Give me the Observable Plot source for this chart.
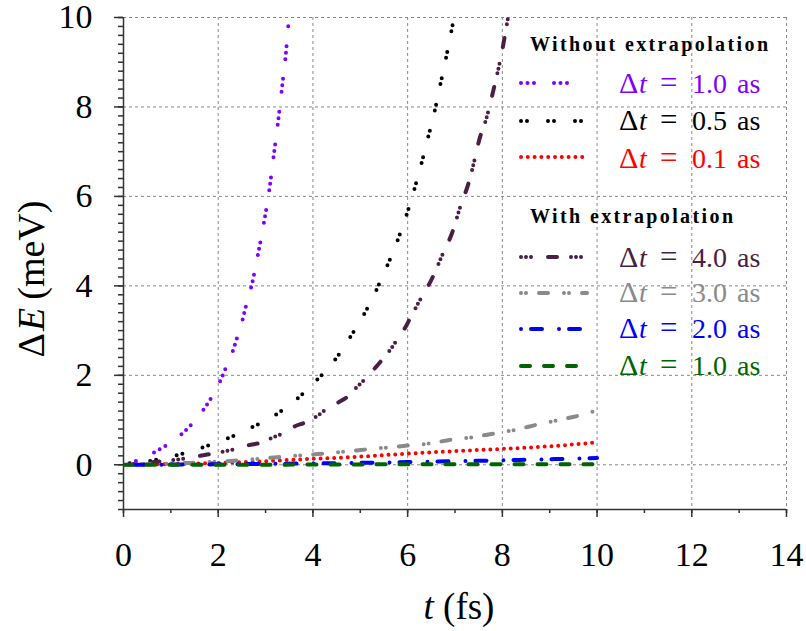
<!DOCTYPE html>
<html><head><meta charset="utf-8">
<script src="https://cdn.jsdelivr.net/npm/d3@7"></script>
<script src="https://cdn.jsdelivr.net/npm/@observablehq/plot@0.6"></script>
<style>body{margin:0;background:#fff}</style>
</head><body><div id="chart"></div>
<script>
// ---- data (t in fs, ΔE in meV) ----
const tWo10 = [0,0.27,0.65,0.9,1.23,1.44,1.70,1.86,2.05,2.17,2.32,2.41,2.53,2.60,2.71,2.85,2.98,3.09,3.18,3.27,3.35,3.43,3.49];
const eWo10 = [0,0.09,0.28,0.43,0.69,0.91,1.25,1.51,1.89,2.19,2.58,2.88,3.31,3.61,4.03,4.76,5.50,6.23,6.98,7.72,8.46,9.21,9.95];
const tWo05 = [0,0.58,1.12,1.65,2.18,2.70,3.20,3.65,4.06,4.44,4.76,5.05,5.31,5.54,5.76,5.95,6.12,6.27,6.41,6.55,6.67,6.79,6.90,6.98];
const eWo05 = [0,0.09,0.21,0.38,0.58,0.83,1.11,1.46,1.87,2.31,2.81,3.31,3.84,4.38,4.94,5.50,6.08,6.65,7.23,7.81,8.40,8.99,9.57,10.0];
const tWo01 = [0,1.2,2.34,3.74,5.15,6.0,6.91,7.90,8.95,10];
const eWo01 = [0,0.02,0.05,0.12,0.19,0.25,0.30,0.35,0.41,0.50];
const tW40 = [0,0.65,1.35,1.77,2.09,2.27,2.65,2.89,3.13,3.38,3.62,3.85,4.06,4.31,4.53,4.73,4.91,5.05,5.31,5.47,5.63,5.80,5.94,6.05,6.31,6.49,6.74,6.93,7.14,7.27,7.37,7.53,7.65,7.81,7.97,8.12];
const eW40 = [0,0.06,0.15,0.23,0.29,0.33,0.44,0.49,0.60,0.71,0.86,0.95,1.07,1.26,1.39,1.52,1.72,1.86,2.16,2.36,2.57,2.83,3.05,3.27,3.78,4.11,4.71,5.16,5.86,6.24,6.63,7.33,7.70,8.37,9.12,10.0];
const tW30 = [0,1.35,2.34,3.25,4.10,5.01,6.0,6.49,6.91,7.40,7.83,8.32,8.74,9.24,9.73,10.0];
const eW30 = [0,0.04,0.09,0.17,0.24,0.33,0.43,0.48,0.56,0.62,0.70,0.79,0.90,1.01,1.13,1.22];
const tW20 = [0,2,4,6,8,10];
const eW20 = [0,0.01,0.03,0.06,0.10,0.15];
const tW10 = [0,2,4,6,8,10];
const eW10 = [0,0.0,0.005,0.01,0.01,0.01];

const xTicks = [0,2,4,6,8,10,12,14];
const yTicks = [0,2,4,6,8,10];
const legendValues = ["1.0","0.5","0.1","4.0","3.0","2.0","1.0"];

const series = [
  {t:tWo10, e:eWo10, color:"#7f00ff", dash:"0 6.5 0 6.5 0 20"},
  {t:tWo05, e:eWo05, color:"#000000", dash:"0 6 0 21"},
  {t:tWo01, e:eWo01, color:"#ff0000", dash:"0 6.8"},
  {t:tW40,  e:eW40,  color:"#4a1f45", dash:"0 5 0 5 0 17 9 14"},
  {t:tW30,  e:eW30,  color:"#8a8a8a", dash:"0 5 0 13 9 16"},
  {t:tW20,  e:eW20,  color:"#0000ff", dash:"0 10 11 17"},
  {t:tW10,  e:eW10,  color:"#006400", dash:"9 14"}
];

const font = "'Liberation Serif', 'Times New Roman', serif";
const axisColor = "#333";
const gridStyle = {stroke:"#888", strokeOpacity:1, strokeWidth:1, strokeDasharray:"3,3"};

const lineMarks = series.map(s => Plot.line(s.t.map((t,i)=>({t, e:s.e[i]})), {
  x:"t", y:"e", stroke:s.color, strokeWidth:4, strokeDasharray:s.dash,
  strokeLinecap:"round", curve:"monotone-x", clip:true
}));

const chart = Plot.plot({
  width:806, height:631,
  marginLeft:123, marginRight:20, marginTop:17, marginBottom:122,
  style:{fontFamily:font, background:"#fff", color:"#000"},
  x:{domain:[0,14]},
  y:{domain:[-1,10]},
  marks:[
    Plot.gridX(xTicks.slice(1), gridStyle),
    Plot.gridY(yTicks, gridStyle),
    Plot.axisX(d3.range(0,15,1), {tickSize:4, fill:"none", stroke:axisColor, strokeWidth:1.5, label:null}),
    Plot.axisX(xTicks, {tickSize:8, tickPadding:24, fontSize:34, stroke:axisColor, strokeWidth:1.5, fill:"#000", label:null, tickFormat:d=>String(d)}),
    Plot.axisY(d3.range(-1,10.001,0.2).map(v=>+v.toFixed(1)), {tickSize:5, fill:"none", stroke:axisColor, strokeWidth:1.5, label:null}),
    Plot.axisY(yTicks, {tickSize:9, tickPadding:22, fontSize:34, stroke:axisColor, strokeWidth:1.5, fill:"#000", label:null, tickFormat:d=>String(d)}),
    Plot.ruleY([-1], {stroke:axisColor, strokeWidth:1.5}),
    Plot.ruleX([0], {stroke:axisColor, strokeWidth:1.5}),
    ...lineMarks
  ]
});
document.getElementById("chart").appendChild(chart);

// ---- titles and legend ----
const svg = d3.select(chart);
const g = svg.append("g").attr("font-family", font).attr("fill", "#000").attr("text-anchor","start");

// x title
const xt = g.append("text").attr("x", 459).attr("y", 619).attr("text-anchor","middle").attr("font-size", 37);
xt.append("tspan").attr("font-style","italic").text("t");
xt.append("tspan").text(" (fs)");
// y title
const yt = g.append("text").attr("transform","translate(44,279) rotate(-90)").attr("text-anchor","middle").attr("font-size", 38);
yt.append("tspan").text("Δ");
yt.append("tspan").attr("font-style","italic").attr("dx",2).text("E");
yt.append("tspan").attr("dx",8).text("(meV)");

// legend headers
g.append("text").attr("x",530).attr("y",51).attr("font-size",20).attr("font-weight","bold").attr("text-anchor","start")
  .attr("textLength",238).attr("lengthAdjust","spacing").text("Without extrapolation");
g.append("text").attr("x",530).attr("y",223).attr("font-size",20).attr("font-weight","bold").attr("text-anchor","start")
  .attr("textLength",203).attr("lengthAdjust","spacing").text("With extrapolation");

const rowLineY = [83,121,157,257,293,329,366];
const rowTextY = [93,130,168,267,302,338,375];
series.forEach((s,i) => {
  g.append("line").attr("x1",521).attr("x2",587).attr("y1",rowLineY[i]).attr("y2",rowLineY[i])
    .attr("stroke",s.color).attr("stroke-width",4).attr("stroke-linecap","round")
    .attr("stroke-dasharray",s.dash);
  const tx = g.append("text").attr("y",rowTextY[i]).attr("font-size",28).attr("fill",s.color).attr("text-anchor","start");
  tx.append("tspan").attr("x",619).attr("font-size",30).text("Δ");
  tx.append("tspan").attr("x",639).attr("font-style","italic").text("t");
  tx.append("tspan").attr("x",660).attr("font-size",31).text("=");
  tx.append("tspan").attr("x",692).text(legendValues[i]);
  tx.append("tspan").attr("x",737).text("as");
});
</script>
</body></html>
